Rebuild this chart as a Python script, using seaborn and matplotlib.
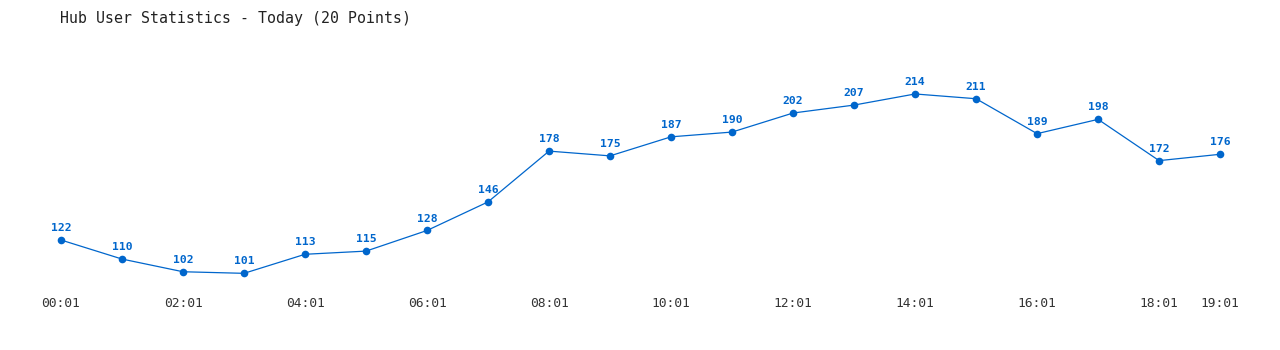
import matplotlib
matplotlib.use("Agg")
import matplotlib.pyplot as plt
import seaborn as sns
import pandas as pd

times = ["00:01", "01:01", "02:01", "03:01", "04:01", "05:01", "06:01", "07:01",
         "08:01", "09:01", "10:01", "11:01", "12:01", "13:01", "14:01", "15:01",
         "16:01", "17:01", "18:01", "19:01"]
users = [122, 110, 102, 101, 113, 115, 128, 146, 178, 175, 187, 190, 202, 207,
         214, 211, 189, 198, 172, 176]
tick_labels = ["00:01", "02:01", "04:01", "06:01", "08:01", "10:01", "12:01",
               "14:01", "16:01", "18:01", "19:01"]
title = "Hub User Statistics - Today (20 Points)"

sns.set_theme(style="white")
plt.rcParams['font.family'] = ['DejaVu Sans Mono', 'DejaVu Sans']

df = pd.DataFrame({"idx": range(len(times)), "time": times, "users": users})

fig = plt.figure(figsize=(12.8, 3.5), dpi=100)
ax = fig.add_axes([30/1280, 1 - 300/350, 1220/1280, 260/350])

color = "#0066cc"
sns.lineplot(data=df, x="idx", y="users", ax=ax, color=color, linewidth=0.9,
             marker="o", markersize=5.5, markeredgewidth=0, markerfacecolor=color)

for i, v in zip(df["idx"], df["users"]):
    ax.annotate(str(v), (i, v), xytext=(0, 5), textcoords="offset points",
                ha="center", va="bottom", fontsize=8.2, fontweight="bold", color=color)

ax.set_xlim(-0.508, 19.49)
ax.set_ylim(84.2, 248)
tick_pos = [times.index(t) for t in tick_labels]
ax.set_xticks(tick_pos)
ax.set_xticklabels(tick_labels, fontsize=9.3, color="#333333")
ax.set_yticks([])
ax.tick_params(axis="x", length=0, pad=-2)
ax.set_xlabel("")
ax.set_ylabel("")
for s in ax.spines.values():
    s.set_visible(False)

fig.text(60/1280, 1 - 18/350, title, fontsize=10.7, color="#222222",
         ha="left", va="center")

fig.savefig("out.png", dpi=100, facecolor="white")
